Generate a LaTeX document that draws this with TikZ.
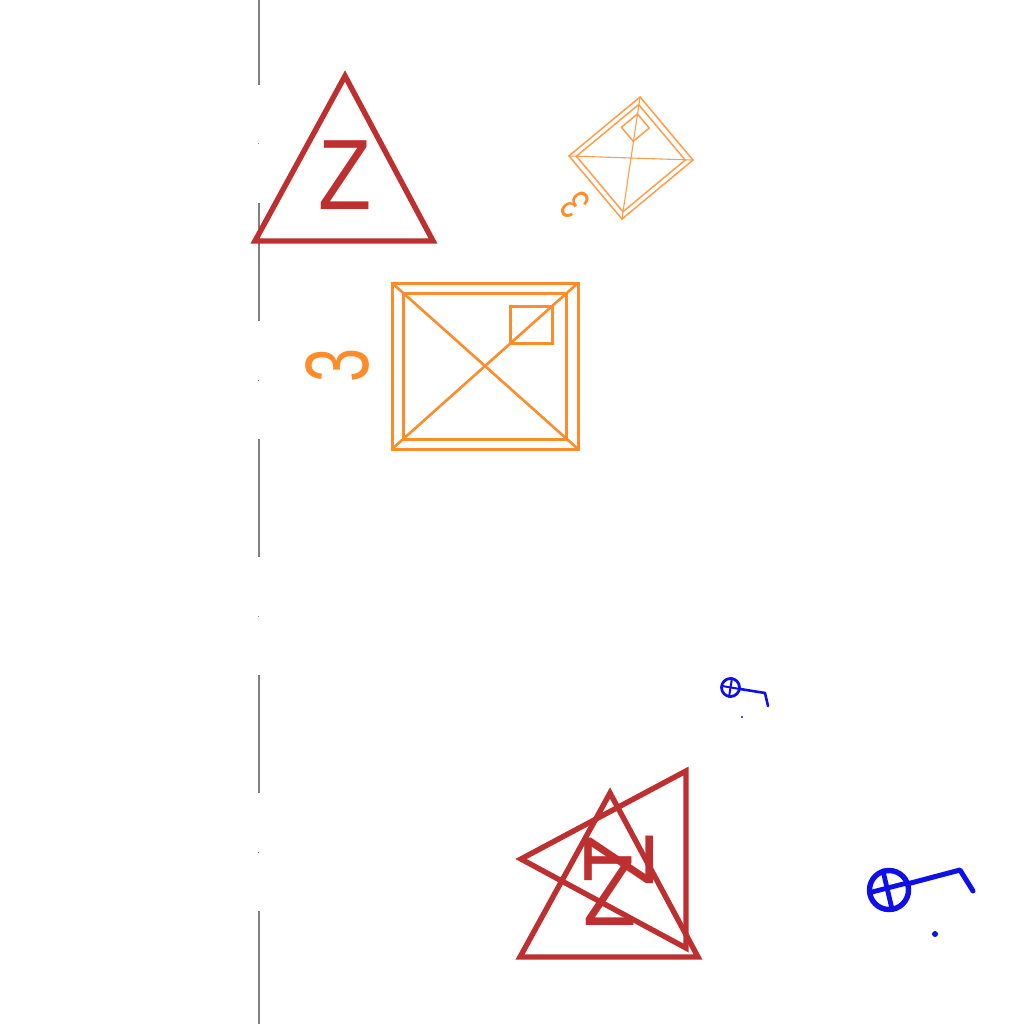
\documentclass[tikz,border=0pt]{standalone}
\usepackage{fontspec}
\setmainfont{Liberation Sans}
\definecolor{tred}{HTML}{BE2F30}
\definecolor{torange}{HTML}{FF8C2A}
\definecolor{tblue}{HTML}{0F0FEA}
\definecolor{tgray}{HTML}{808080}
\newcommand{\pyramid}[3]{%
  \coordinate (#1a) at (-93,-83); \coordinate (#1b) at (93,-83);
  \coordinate (#1c) at (93,83); \coordinate (#1d) at (-93,83);
  \draw[#2] (#1a) -- (#1b) -- (#1c) -- (#1d) -- cycle;
  \draw[#2] (-82,-73) -- (81,-73) -- (81,73) -- (-82,73) -- cycle;
  \draw[#2] (25,-60) -- (67,-60) -- (67,-23) -- (25,-23) -- cycle;
  \draw[#3] (#1a) -- (#1c);
  \draw[#3] (#1b) -- (#1d);
}
\begin{document}
\begin{tikzpicture}[x=1pt,y=-1pt,
  tri/.style={draw=tred,line width=5.4pt,line join=miter,miter limit=2.2},
  zed/.style={text=tred,inner sep=0pt,xscale=.87,font=\fontsize{100}{100}\selectfont},
  bigthree/.style={text=torange,inner sep=0pt},
  axisline/.style={draw=tgray,line width=1.3pt},
  tick/.style={fill=tgray,inner sep=0pt,minimum size=1pt},
  wheel/.style={draw=tblue,line cap=round,line join=round}]
\useasboundingbox (0,0) rectangle (1024,1024);
\fill[white] (0,0) rectangle (1024,1024);

% dash-dot axis
\foreach \i/\a/\b in {1/-3/85,2/203/321,3/439/557,4/675/793,5/911/1027}{
  \coordinate (s\i) at (259,\a); \coordinate (e\i) at (259,\b);
  \draw[axisline] (s\i) -- (e\i);
}
\foreach \i/\p in {1/144,2/380,3/616,4/852}{
  \node[tick] (dot\i) at (258.5,\p) {};
}

% upper triangle
\draw[tri] (345,76) -- (255,241) -- (433,241) -- cycle;
\node[zed] (zupper) at (345,175) {Z};

% lower triangles
\draw[tri] (610,793) -- (520,957) -- (698,957) -- cycle;
\node[zed] (zlower) at (610,891) {Z};
\draw[tri] (686,771) -- (686,948) -- (521,859) -- cycle;
\node[rotate=90,zed] (zturned) at (619.5,860) {Z};

% large orange pyramid
\begin{scope}[shift={(485,366)}]
  \pyramid{p}{draw=torange,line width=3pt}{draw=torange,line width=2.6pt}
\end{scope}
\node[bigthree,rotate=90,xscale=.68,font=\fontsize{90}{90}\selectfont] (threebig) at (338,365.5) {3};

% small orange pyramid
\begin{scope}[shift={(631,158)},x={(.382pt,.317pt)},y={(.319pt,-.380pt)}]
  \pyramid{q}{draw=torange!85,line width=1.5pt}{draw=torange!85,line width=1.1pt}
\end{scope}
\node[bigthree,rotate=130,xscale=.68,font=\fontsize{45}{45}\selectfont] (threesmall) at (575,205) {3};

% large blue mark
\node[circle,draw=tblue,line width=5.4pt,minimum size=39pt,inner sep=0pt] (wa) at (889,890) {};
\draw[wheel,line width=4.8pt] (872,892) -- (907,883);
\draw[wheel,line width=4.8pt] (883,871) -- (892,909);
\coordinate (wae) at (960,870); \coordinate (waf) at (973,891);
\draw[wheel,line width=5pt] (907,884) -- (wae) -- (waf);
\node[circle,fill=tblue,inner sep=0pt,minimum size=6pt] (wadot) at (935,934) {};

% small blue mark
\node[circle,draw=tblue,line width=2.8pt,minimum size=18pt,inner sep=0pt] (wb) at (730.5,687.5) {};
\draw[wheel,line width=2pt] (722,686) -- (740,689);
\draw[wheel,line width=2pt] (732,678) -- (729,697);
\coordinate (wbe) at (765,693); \coordinate (wbf) at (768,706);
\draw[wheel,line width=2.6pt] (740,689) -- (wbe) -- (wbf);
\node[circle,fill=tblue,inner sep=0pt,minimum size=2.4pt] (wbdot) at (742,717) {};
\end{tikzpicture}
\end{document}
